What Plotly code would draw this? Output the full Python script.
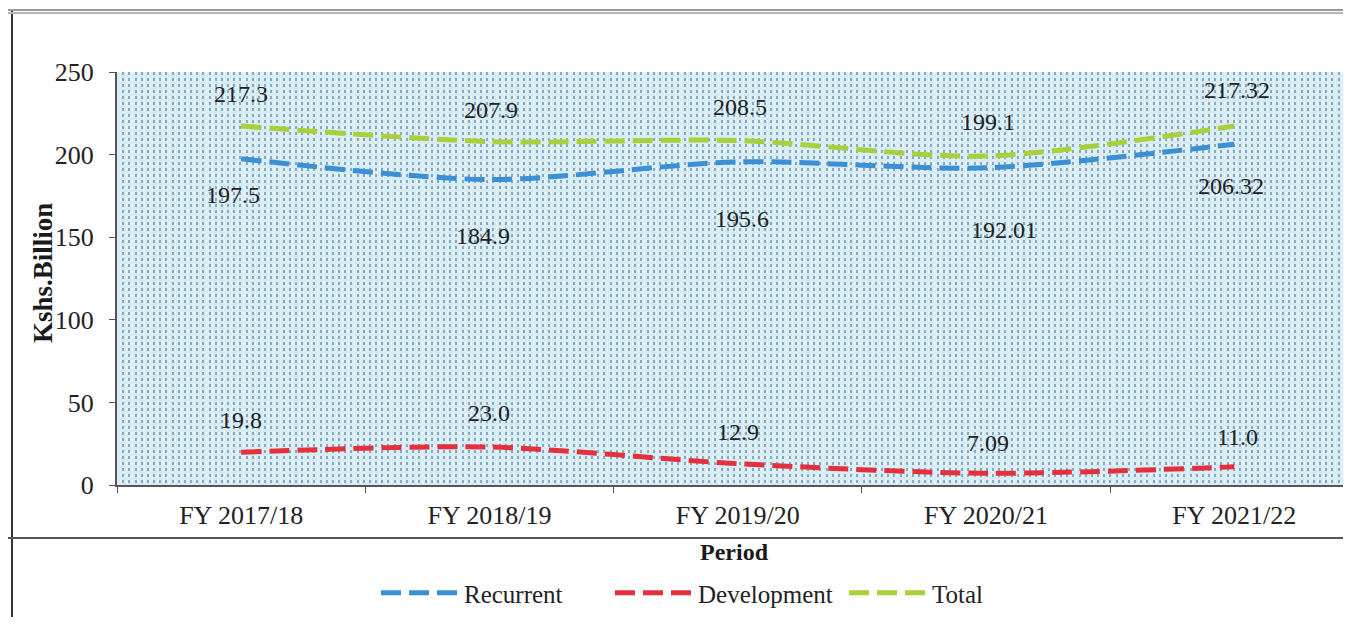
import plotly.graph_objects as go

# ---- data ----
periods = ["FY 2017/18", "FY 2018/19", "FY 2019/20", "FY 2020/21", "FY 2021/22"]
recurrent = [197.5, 184.9, 195.6, 192.01, 206.32]
development = [19.8, 23.0, 12.9, 7.09, 11.0]
total = [217.3, 207.9, 208.5, 199.1, 217.32]
y_ticks = [0, 50, 100, 150, 200, 250]

# ---- layout geometry (page pixels; the page body has an 8px margin) ----
OFF = 8
W, H = 1351 - OFF, 625 - 2 * OFF
PL, PT, PB = 117, 72, 485            # plot edges in page pixels
L, T = PL - OFF, PT - OFF
B = H - (PB - OFF)
R = 0
PW, PH = W - L - R, H - T - B

def px(xp):
    return (xp - OFF - L) / PW

def py(yp):
    return (H - B - (yp - OFF)) / PH

FONT = "Liberation Serif"
TXT = "#222222"
C_REC = "#3b8fd4"
C_DEV = "#e3303c"
C_TOT = "#a9d03a"
DASH = "20px,8px"

fig = go.Figure()
for name, vals, col in [("Recurrent", recurrent, C_REC),
                        ("Development", development, C_DEV),
                        ("Total", total, C_TOT)]:
    fig.add_trace(go.Scatter(
        x=periods, y=vals, name=name, mode="lines",
        line=dict(color=col, width=5, dash=DASH, shape="spline", smoothing=0.8),
        hoverinfo="x+y+name",
    ))

# empty helper trace so the overlaid hatch axis is drawn
fig.add_trace(go.Scatter(x=[], y=[], xaxis="x2", yaxis="y", showlegend=False,
                         hoverinfo="skip"))

# data labels (offsets are styling, in pixels)
label_specs = [
    (total, [-32, -32, -34, -34, -36], [0, 2, 2, 2, 3]),
    (recurrent, [36, 56, 57, 62, 42], [-8, -6, 4, 18, -3]),
    (development, [-32, -34, -32, -30, -30], [0, 0, 0, 2, 3]),
]
annotations = []
for vals, dys, dxs in label_specs:
    for cat, v, dy, dx in zip(periods, vals, dys, dxs):
        annotations.append(dict(
            x=cat, y=v, xref="x", yref="y", text=str(v), showarrow=False,
            yshift=-dy, xshift=dx,
            font=dict(family=FONT, size=24, color=TXT),
        ))

# y-axis title placed as a rotated annotation
annotations.append(dict(
    x=px(43), y=py(273), xref="paper", yref="paper", text="<b>Kshs.Billion</b>",
    textangle=-90, showarrow=False, xanchor="center", yanchor="middle",
    font=dict(family=FONT, size=27, color="#1a1a1a"),
))

# frame lines around the chart (document table borders)
shapes = [
    dict(type="line", xref="paper", yref="paper", x0=px(12), x1=px(12),
         y0=py(10), y1=py(640), line=dict(color="#333333", width=2), layer="above"),
    dict(type="line", xref="paper", yref="paper", x0=px(0), x1=px(1360),
         y0=py(10), y1=py(10), line=dict(color="#9a9a9a", width=2), layer="above"),
    dict(type="line", xref="paper", yref="paper", x0=px(0), x1=px(1360),
         y0=py(13), y1=py(13), line=dict(color="#b5b5b5", width=2), layer="above"),
    dict(type="line", xref="paper", yref="paper", x0=px(0), x1=px(1360),
         y0=py(538), y1=py(538), line=dict(color="#555555", width=2), layer="above"),
]

fig.update_layout(
    width=W, height=H,
    margin=dict(l=L, r=R, t=T, b=B, pad=0),
    paper_bgcolor="white",
    plot_bgcolor="#d8ecf3",
    font=dict(family=FONT, size=20, color=TXT),
    showlegend=True,
    legend=dict(orientation="h", x=px(376), y=py(593), xanchor="left",
                yanchor="middle", font=dict(family=FONT, size=25, color=TXT),
                bgcolor="rgba(0,0,0,0)", itemwidth=78, entrywidth=141,
                tracegroupgap=0),
    xaxis=dict(
        type="category", range=[-0.5, 4.47], tickson="boundaries",
        ticks="outside", ticklen=6, tickcolor="#555555",
        showline=True, linecolor="#555555", linewidth=2,
        showgrid=False, zeroline=False,
        tickfont=dict(family=FONT, size=26, color=TXT),
        ticklabelstandoff=6,
        title=dict(text="<b>Period</b>", font=dict(family=FONT, size=24, color="#1a1a1a"),
                   standoff=14),
    ),
    xaxis2=dict(
        overlaying="x", anchor="y", range=[0, 1], showticklabels=False,
        ticks="", showline=False, zeroline=False,
        showgrid=True, dtick=0.005, gridcolor="#88a9c5", gridwidth=2, griddash="dot",
        minor=dict(showgrid=True, dtick=0.0025, gridcolor="#f4fafc", gridwidth=1, griddash="dot"),
    ),
    yaxis=dict(
        range=[0, 250], tickvals=y_ticks, ticks="outside", ticklen=6,
        tickcolor="#555555", showline=True, linecolor="#555555", linewidth=2,
        showgrid=False, zeroline=False,
        tickfont=dict(family=FONT, size=26, color=TXT),
        ticklabelstandoff=10,
    ),
    annotations=annotations,
    shapes=shapes,
)

fig.write_html("out.html")
